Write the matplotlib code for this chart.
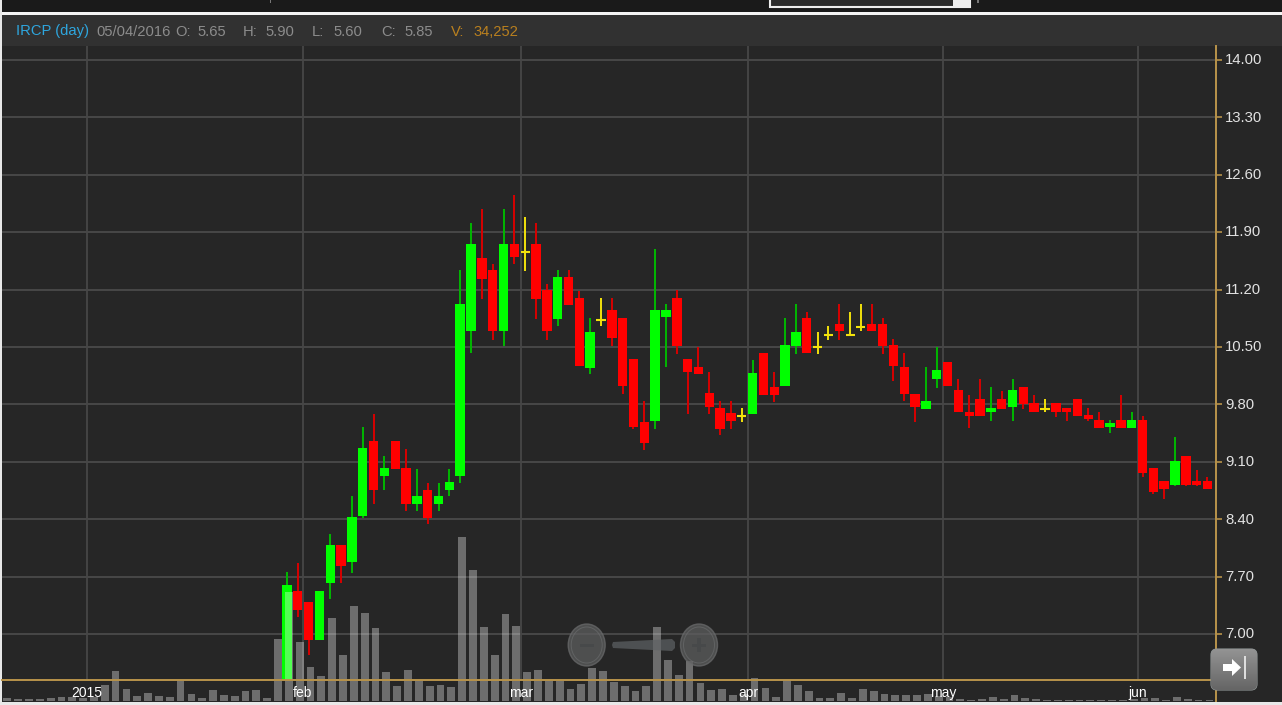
import numpy as np
import matplotlib
matplotlib.use('Agg')
import matplotlib.pyplot as plt
from matplotlib.patches import Rectangle, Ellipse, FancyBboxPatch, Polygon
from matplotlib.transforms import ScaledTranslation

plt.rcParams['font.family'] = ['Liberation Sans', 'DejaVu Sans']

# daily candles, first one sits on the 27th volume bar
opens = [6.44, 7.52, 7.39, 6.93, 7.62, 8.09, 7.88, 8.44, 9.35, 8.93, 9.35, 9.02, 8.59, 8.76, 8.59, 8.76,
         8.93, 10.69, 11.59, 11.44, 10.69, 11.76, 11.66, 11.76, 11.20, 10.84, 11.35, 11.10, 10.25, 10.83,
         10.95, 10.85, 10.35, 9.59, 9.60, 10.86, 11.10, 10.35, 10.26, 9.94, 9.76, 9.69, 9.66, 9.68, 10.43,
         10.01, 10.02, 10.51, 10.85, 10.50, 10.65, 10.78, 10.65, 10.75, 10.78, 10.78, 10.52, 10.26, 9.93,
         9.75, 10.11, 10.32, 9.98, 9.71, 9.86, 9.71, 9.86, 9.77, 10.01, 9.82, 9.74, 9.82, 9.76, 9.86, 9.67,
         9.61, 9.52, 9.61, 9.51, 9.61, 9.02, 8.87, 8.82, 9.17, 8.87, 8.87]
highs = [7.76, 7.87, 7.39, 7.52, 8.22, 8.09, 8.68, 9.52, 9.68, 9.17, 9.35, 9.26, 9.01, 8.84, 8.84, 9.01,
         11.44, 12.01, 12.18, 11.51, 12.18, 12.35, 12.09, 12.01, 11.27, 11.44, 11.44, 11.18, 10.85, 11.10,
         11.10, 10.85, 10.35, 9.84, 11.69, 11.02, 11.20, 10.35, 10.50, 10.19, 9.84, 9.84, 9.76, 10.34, 10.43,
         10.19, 10.85, 11.02, 10.93, 10.68, 10.76, 11.02, 10.93, 11.02, 11.02, 10.85, 10.60, 10.43, 9.93,
         10.26, 10.50, 10.32, 10.11, 9.91, 10.11, 10.01, 9.96, 10.11, 10.01, 9.91, 9.86, 9.82, 9.76, 9.86, 9.76,
         9.71, 9.61, 9.91, 9.71, 9.66, 9.02, 8.87, 9.40, 9.17, 9.00, 8.91]
lows = [6.44, 7.21, 6.74, 6.93, 7.43, 7.62, 7.75, 8.41, 8.59, 8.76, 9.01, 8.50, 8.50, 8.34, 8.50, 8.68,
        8.84, 10.43, 11.09, 10.59, 10.51, 11.51, 11.43, 10.84, 10.59, 10.76, 11.01, 10.27, 10.17, 10.76,
        10.51, 9.93, 9.50, 9.25, 9.50, 10.26, 10.42, 9.68, 10.17, 9.68, 9.43, 9.50, 9.58, 9.68, 9.92,
        9.83, 10.02, 10.42, 10.43, 10.42, 10.59, 10.59, 10.65, 10.69, 10.69, 10.42, 10.09, 9.84, 9.58,
        9.75, 10.00, 10.02, 9.71, 9.51, 9.66, 9.60, 9.75, 9.60, 9.75, 9.71, 9.71, 9.65, 9.60, 9.66, 9.60,
        9.51, 9.45, 9.51, 9.51, 8.91, 8.71, 8.65, 8.80, 8.80, 8.80, 8.77]
closes = [7.60, 7.29, 6.93, 7.52, 8.09, 7.83, 8.43, 9.27, 8.76, 9.02, 9.01, 8.59, 8.68, 8.42, 8.68, 8.85,
          11.02, 11.76, 11.33, 10.69, 11.76, 11.60, 11.66, 11.09, 10.69, 11.35, 11.01, 10.27, 10.68, 10.83,
          10.61, 10.02, 9.52, 9.33, 10.95, 10.95, 10.51, 10.19, 10.17, 9.77, 9.50, 9.60, 9.66, 10.18, 9.92,
          9.92, 10.52, 10.68, 10.43, 10.50, 10.65, 10.69, 10.65, 10.75, 10.69, 10.51, 10.27, 9.93, 9.77,
          9.84, 10.22, 10.02, 9.71, 9.66, 9.66, 9.76, 9.75, 9.98, 9.80, 9.71, 9.74, 9.71, 9.71, 9.66, 9.62,
          9.51, 9.57, 9.51, 9.61, 8.96, 8.73, 8.77, 9.11, 8.82, 8.82, 8.77]

volumes = [3, 2, 2, 2, 3, 4, 4, 3, 4, 16, 30, 12, 5, 8, 5, 4, 21, 7, 3, 11, 6, 5, 10, 11, 3,
           62, 109, 59, 34, 25, 83, 46, 95, 88, 73, 29, 15, 31, 20, 15, 16, 14,
           164, 131, 74, 46, 87, 75, 29, 31, 20, 20, 12, 17, 33, 30, 19, 15, 10, 15,
           74, 41, 26, 40, 18, 11, 12, 6, 7, 23, 13, 4, 21, 16, 10, 3, 3, 8, 3,
           12, 10, 7, 6, 6, 6, 7, 5, 4, 2, 1, 2, 4, 2, 6, 3, 2, 1, 1, 1, 1, 1, 1, 1, 1,
           2, 3, 3, 1, 4, 2, 1, 1]

price_ticks = [7.00, 7.70, 8.40, 9.10, 9.80, 10.50, 11.20, 11.90, 12.60, 13.30, 14.00]
month_labels = ['2015', 'feb', 'mar', 'apr', 'may', 'jun']
month_pos = [7.36, 27.3, 47.4, 68.4, 86.4, 104.4]

BG = '#262626'
GRID = '#474747'
GOLD = '#b8934a'
GREEN = '#00ff00'
RED = '#ff0000'
YELLOW = '#f2e20c'
W, H = 1282, 705


def fig_rect(left, top, right, bottom):
    return [left / W, 1 - bottom / H, (right - left) / W, (bottom - top) / H]


fig = plt.figure(figsize=(W / 100, H / 100), dpi=100, facecolor=BG)

# page chrome behind the chart
back = fig.add_axes([0, 0, 1, 1], zorder=-1)
back.set_xlim(0, W)
back.set_ylim(H, 0)
back.axis('off')
back.add_patch(Rectangle((0, 0), W, 12, color='#1a1a1a', lw=0))
back.add_patch(Rectangle((0, 15), W, 31, color='#313131', lw=0))
back.add_patch(Rectangle((0, 12), W, 3, color='#f4f4f4', lw=0))
back.add_patch(Rectangle((0, 702), W, 3, color='#e8e8e8', lw=0))
back.add_patch(Rectangle((0, 0), 2, H, color='#e8e8e8', lw=0))
back.add_patch(Rectangle((770, -2), 200, 8.5, fc='#2c2c2c', ec='#eeeeee', lw=1.5))
back.add_patch(Rectangle((953, 0), 17, 6.5, color='#eeeeee', lw=0))
back.add_patch(Rectangle((269.5, 0), 1.5, 3, color='#777777', lw=0))
back.add_patch(Rectangle((977, 0), 1.5, 3, color='#777777', lw=0))

# price pane and volume pane share the same frame
pos = fig_rect(2, 46, 1216, 701)
ax = fig.add_axes(pos, zorder=1)
ax.set_facecolor(BG)
vol = fig.add_axes(pos, zorder=2, sharex=ax)
vol.patch.set_visible(False)

x_left = (2 - 7.3) / 10.83
x_right = (1216 - 7.3) / 10.83
ax.set_xlim(x_left, x_right)
ax.set_ylim(14 - (701 - 60) / 82, 14 + (60 - 46) / 82)
vol.set_ylim(0, 655)

axis_frac = (701 - 680) / 655

ax.yaxis.tick_right()
ax.set_yticks(price_ticks)
ax.set_yticklabels(['%.2f' % p for p in price_ticks], fontsize=10.7, color='#e2e2e2')
ax.tick_params(axis='y', length=4, width=1.2, color=GOLD, pad=2.5)
up_1px = ScaledTranslation(0, 1.2 / 100, fig.dpi_scale_trans)
for label in ax.get_yticklabels():
    label.set_transform(label.get_transform() + up_1px)
ax.grid(axis='y', color=GRID, lw=1.4, zorder=0)
ax.set_axisbelow(True)
ax.vlines(month_pos, axis_frac, 1, transform=ax.get_xaxis_transform(), color=GRID, lw=1.3, zorder=0.5)
for name, spine in ax.spines.items():
    spine.set_visible(name == 'right')
ax.spines['right'].set_color(GOLD)
ax.spines['right'].set_linewidth(1.4)
ax.tick_params(axis='x', bottom=False, labelbottom=False)

# candles
candle_x = np.arange(len(opens)) + 26 - 0.18
for x, o, h, l, c in zip(candle_x, opens, highs, lows, closes):
    if c > o:
        body, wick = GREEN, '#00b800'
    elif c < o:
        body, wick = RED, '#d80000'
    else:
        body, wick = YELLOW, YELLOW
    ax.vlines(x, l, h, color=wick, lw=1.4, zorder=2)
    if c == o:
        ax.hlines(c, x - 0.42, x + 0.42, color=YELLOW, lw=1.5, zorder=3)
    else:
        ax.bar(x, abs(c - o), bottom=min(o, c), width=0.87, color=body, lw=0, zorder=3)

# volume
vol.bar(np.arange(len(volumes)), volumes, width=0.72, color='white', alpha=0.33, lw=0)
vol.set_yticks([])
vol.set_xticks(month_pos)
vol.set_xticklabels(month_labels, fontsize=11)
vol.tick_params(axis='x', length=0, pad=4, labelcolor='white', labelbottom=True)
for name, spine in vol.spines.items():
    spine.set_visible(name == 'bottom')
vol.spines['bottom'].set_position(('axes', axis_frac))
vol.spines['bottom'].set_color(GOLD)
vol.spines['bottom'].set_linewidth(1.4)

# quote line
quote = [(16, 'IRCP (day)', '#2ea6de'), (96, '05/04/2016', '#8c8c8c'),
         (175, 'O:', '#8c8c8c'), (197, '5.65', '#8c8c8c'),
         (243, 'H:', '#8c8c8c'), (265, '5.90', '#8c8c8c'),
         (312, 'L:', '#8c8c8c'), (333, '5.60', '#8c8c8c'),
         (381, 'C:', '#8c8c8c'), (404, '5.85', '#8c8c8c'),
         (451, 'V:', '#b9801f'), (474, '34,252', '#b9801f')]
for qx, text, colour in quote:
    fig.text(qx / W, 1 - 31.5 / H, text, color=colour, fontsize=10.6, va='center', ha='left')

# zoom and jump controls on top
top = fig.add_axes([0, 0, 1, 1], zorder=5)
top.patch.set_visible(False)
top.axis('off')
for cx in [586.7, 699]:
    top.add_patch(Ellipse((cx, 645), 37, 42, fc='#5e5f60', ec='#6a6b6c', lw=1, alpha=0.72))
    top.add_patch(Ellipse((cx, 645), 31, 36, fc='none', ec='#6e7071', lw=0.7, alpha=0.6))
top.add_patch(Rectangle((580, 643.5), 14, 3.5, color='#47494a', lw=0))
top.add_patch(Rectangle((692, 643.5), 14, 3.5, color='#47494a', lw=0))
top.add_patch(Rectangle((697.2, 638), 3.5, 14, color='#47494a', lw=0))
top.add_patch(Polygon([(613, 642), (672, 639), (675, 642), (675, 648), (672, 651), (613, 648), (612, 645)],
                      closed=True, fc='#5f6365', ec='none', alpha=0.7))

button = FancyBboxPatch((1214, 652), 40, 35, boxstyle='round,pad=3,rounding_size=6', fc='#7e8686',
                        ec='#8f9696', lw=0.8)
top.add_patch(button)
shade = top.imshow(np.linspace(0.58, 0.40, 40).reshape(-1, 1), extent=(1210, 1258, 690, 648), cmap='gray',
                   vmin=0, vmax=1, aspect='auto', origin='upper', zorder=1.5)
shade.set_clip_path(button)
top.add_patch(Polygon([(1223, 664), (1232, 664), (1232, 659), (1241, 667.5), (1232, 676), (1232, 671), (1223, 671)],
                      closed=True, fc='white', ec='none', zorder=3))
top.add_patch(Rectangle((1244, 656), 2, 23, color='#dddddd', lw=0, zorder=3))
top.set_xlim(0, W)
top.set_ylim(H, 0)

fig.savefig('out.png', dpi=100, facecolor=fig.get_facecolor())
